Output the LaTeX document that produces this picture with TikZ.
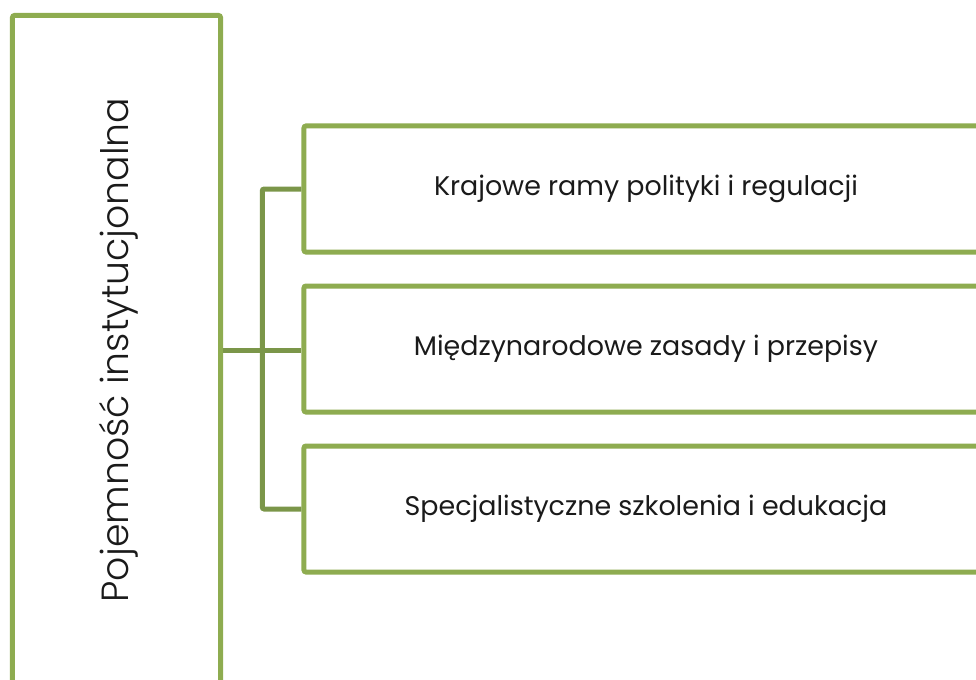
\documentclass[tikz,border=0pt]{standalone}
\usepackage{fontspec}
\setmainfont{Poppins}
\newfontfamily\lightfont{Poppins}[UprightFont={* Light}]
\usetikzlibrary{calc}
\definecolor{boxgreen}{HTML}{8EAC50}
\definecolor{linegreen}{HTML}{7B9649}
\definecolor{txt}{HTML}{1A1A1A}
\tikzset{
  frame/.style={draw=boxgreen, line width=5bp, fill=white, rounded corners=2bp, inner sep=0pt},
  conn/.style={draw=linegreen, line width=5bp, rounded corners=2bp},
  itemtext/.style={font=\fontsize{26.9bp}{30bp}\selectfont, text=txt},
  maintext/.style={font=\lightfont\fontsize{37.8bp}{42bp}\selectfont, text=txt, rotate=90}
}
\begin{document}
\begin{tikzpicture}[x=1bp,y=-1bp]
\useasboundingbox (0,0) rectangle (976,680);
\clip (0,0) rectangle (976,680);
\node[frame, minimum width=208bp, minimum height=669bp] (L) at (116.5,350) {};
\node[maintext] (Lt) at (119,350) {Pojemność instytucjonalna};
\node[frame, minimum width=684bp, minimum height=126bp, itemtext] (b1) at (646,189) {Krajowe ramy polityki i regulacji};
\node[frame, minimum width=684bp, minimum height=126bp, itemtext] (b2) at (646,349) {Międzynarodowe zasady i przepisy};
\node[frame, minimum width=684bp, minimum height=126bp, itemtext] (b3) at (646,509) {Specjalistyczne szkolenia i edukacja};
\coordinate (j) at ($(L.east)!0.5!(b2.west)$);
\draw[conn] (L.east) -- (L.east -| b2.west);
\draw[conn] (b1.west) -| (j) |- (b3.west);
\end{tikzpicture}
\end{document}
